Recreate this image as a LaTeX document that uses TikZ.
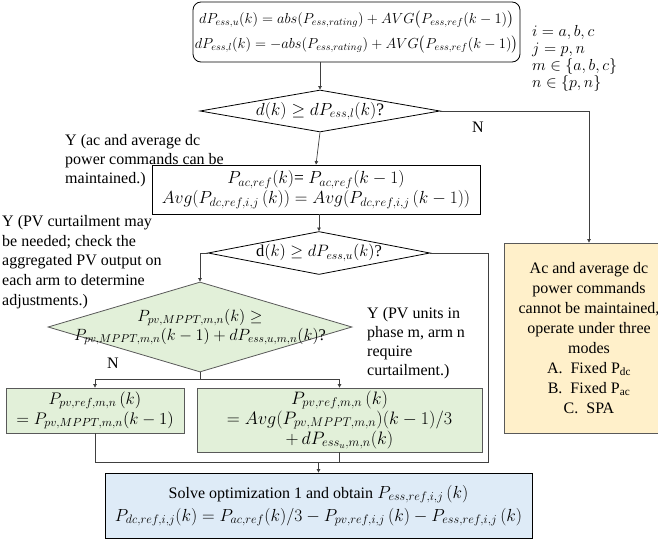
\RequirePackage{fix-cm}
\documentclass[tikz,border=0pt]{standalone}
\usepackage{amsmath}
\usepackage{fontspec}
\setmainfont{Liberation Serif}
\usetikzlibrary{shapes.geometric,arrows.meta}
\definecolor{pvgreen}{HTML}{E2F0D9}
\definecolor{optblue}{HTML}{DEEBF7}
\definecolor{modeorange}{HTML}{FFF0CA}
\definecolor{edgegray}{HTML}{595959}
\definecolor{linegray}{HTML}{404040}

\begin{document}
\begin{tikzpicture}[x=1pt,y=-1pt,
        font=\fontsize{16}{19}\selectfont,
        box/.style={
        draw=black, line width=0.8pt,
        align=center, inner sep=0pt},
        dia/.style={
        diamond, draw=black, line width=0.8pt,
        inner sep=0pt},
        lbl/.style={align=left, inner sep=0pt, anchor=west},
        arr/.style={-{Triangle[length=3.5pt,width=3.5pt]},
        line width=0.7pt, draw=linegray},
        link/.style={line width=0.7pt, draw=linegray},
        ]
        \useasboundingbox (0,0) rectangle (658,541);
        \clip (0,0) rectangle (658,541);

        % bounds of the ess power change
        \node (bound) [box, rounded corners=8pt, minimum width=327pt, minimum height=60pt,
            font=\fontsize{14.5}{20}\selectfont] at (356.5,32)
            {$dP_{ess,u}(k) = abs(P_{ess,rating}) + AVG\big(P_{ess,ref}(k-1)\big)$\\[5pt]
             $dP_{ess,l}(k) = -abs(P_{ess,rating}) + AVG\big(P_{ess,ref}(k-1)\big)$};
        \node (idx) [lbl, font=\fontsize{16}{17}\selectfont] at (532,58)
            {$i = a,b,c$\\ $j = p,n$\\ $m \in \{a,b,c\}$\\ $n \in \{p,n\}$};

        \node (lowchk) [dia, minimum width=240pt, minimum height=42pt,
            label={[font=\fontsize{17.5}{20}\selectfont]center:{$d(k) \geq dP_{ess,l}(k)$?}}] at (320,111) {};
        \node (ylow) [lbl] at (65,161) {Y (ac and average dc\\power commands can be\\maintained.)};
        \node (nlow) at (478,127) {N};

        \node (keep) [box, minimum width=328pt, minimum height=49pt,
            font=\fontsize{17.5}{20}\selectfont] at (316,189.5)
            {$P_{ac,ref}(k)$= $P_{ac,ref}(k-1)$\\
             $Avg(P_{dc,ref,i,j}\,(k)) = Avg(P_{dc,ref,i,j}\,(k-1))$};

        \node (upchk) [dia, minimum width=222pt, minimum height=43pt,
            label={[font=\fontsize{16.5}{20}\selectfont]center:{d$(k) \geq dP_{ess,u}(k)$?}}] at (319,253) {};
        \node (yup) [lbl, font=\fontsize{16}{19.7}\selectfont] at (2,262)
            {Y (PV curtailment may\\be needed; check the\\aggregated PV output on\\each arm to determine\\adjustments.)};

        \node (pvchk) [dia, draw=edgegray, fill=pvgreen, minimum width=304pt, minimum height=90pt,
            label={[align=center, font=\fontsize{16.3}{19}\selectfont]center:{$P_{pv,MPPT,m,n}(k) \geq$\\ $P_{pv,MPPT,m,n}(k-1) + dP_{ess,u,m,n}(k)$?}}] at (200,327) {};
        \node (ypv) [lbl] at (367,343) {Y (PV units in\\phase m, arm n\\require\\curtailment.)};
        \node (npv) at (113,363) {N};

        \node (pvmppt) [box, draw=edgegray, fill=pvgreen, minimum width=178pt, minimum height=45pt,
            font=\fontsize{16.8}{20}\selectfont] at (95,410.5)
            {$P_{pv,ref,m,n}\,(k)$\\ $= P_{pv,MPPT,m,n}(k-1)$};
        \node (pvcut) [box, draw=edgegray, fill=pvgreen, minimum width=285pt, minimum height=64pt,
            font=\fontsize{18}{20}\selectfont] at (339.5,420)
            {$P_{pv,ref,m,n}\,(k)$\\ $= Avg(P_{pv,MPPT,m,n})(k-1)/3$\\ $+\, dP_{ess_u,m,n}(k)$};

        \node (opt) [box, fill=optblue, minimum width=427pt, minimum height=65pt,
            font=\fontsize{17.5}{23}\selectfont] at (318.5,505.5)
            {{\fontsize{16}{19}\selectfont Solve optimization 1 and obtain} $P_{ess,ref,i,j}\,(k)$\\
             $P_{dc,ref,i,j}(k) = P_{ac,ref}(k)/3 - P_{pv,ref,i,j}\,(k) - P_{ess,ref,i,j}\,(k)$};

        \node (modes) [box, draw=edgegray, fill=modeorange, minimum width=170pt, minimum height=190pt,
            font=\fontsize{16}{20}\selectfont] at (589,338)
            {Ac and average dc\\power commands\\cannot be maintained,\\operate under three\\modes\\
             A.\enspace Fixed P\textsubscript{dc}\\B.\enspace Fixed P\textsubscript{ac}\\C.\enspace SPA};

        \coordinate (split) at (200,379);
        \coordinate (merge) at (488,462);

        \draw[arr] (bound.south -| lowchk.north) -- (lowchk.north);
        \draw[arr] (lowchk.east) -| (modes.north);
        \draw[arr] (lowchk.south) -- (keep.north);
        \draw[arr] (keep.south -| upchk.north) -- (upchk.north);
        \draw[arr] (upchk.west) -| (pvchk.north);
        \draw[link] (pvchk.south) -- (split);
        \draw[arr] (split) -| (pvmppt.north);
        \draw[arr] (split) -| (pvcut.north);
        \draw[link] (upchk.east) -| (merge) -| (pvmppt.south);
        \draw[link] (pvcut.south) -- (pvcut.south |- merge);
        \draw[arr] (opt.north |- merge) -- (opt.north);
    \end{tikzpicture}
\end{document}
